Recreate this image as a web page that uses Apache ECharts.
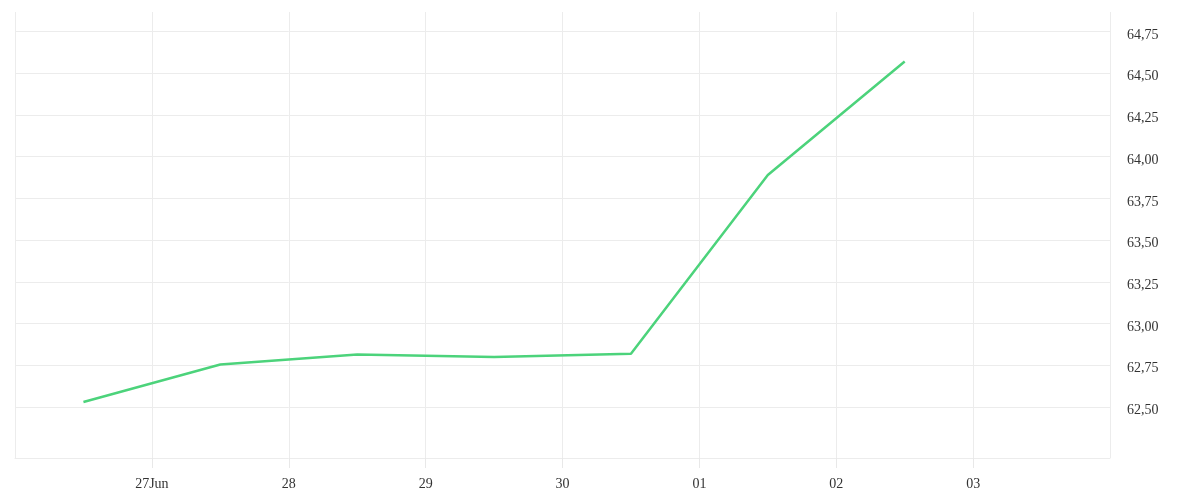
<!DOCTYPE html>
<html>
<head>
<meta charset="utf-8">
<style>html,body{margin:0;padding:0;background:#fff;}#chart{width:1200px;height:500px;}</style>
<script src="https://cdn.jsdelivr.net/npm/echarts@6/dist/echarts.min.js"></script>
</head>
<body>
<div id="chart"></div>
<script>
// Data
var dates = ['2024-06-26', '2024-06-27', '2024-06-28', '2024-06-29', '2024-06-30', '2024-07-01', '2024-07-02'];
var values = [62.53, 62.755, 62.815, 62.80, 62.82, 63.89, 64.57];
var yTicks = [62.50, 62.75, 63.00, 63.25, 63.50, 63.75, 64.00, 64.25, 64.50, 64.75];
var monthNames = ['Jan','Feb','Mar','Apr','May','Jun','Jul','Aug','Sep','Oct','Nov','Dec'];
var xStart = '2024-06-26';
var xEnd = '2024-07-04';
var yMin = 62.195, yMax = 64.866;

var DAY = 86400000;
var xMin = Date.parse(xStart + 'T00:00:00Z');
var xMax = Date.parse(xEnd + 'T00:00:00Z');
var seriesData = dates.map(function (d, i) {
  return [Date.parse(d + 'T12:00:00Z'), values[i]];
});

var gridColor = '#ececec';
var fontFam = '"Liberation Serif", serif';

var chart = echarts.init(document.getElementById('chart'), null, {renderer: 'canvas'});
chart.setOption({
  animation: false,
  backgroundColor: '#ffffff',
  grid: {left: 15, right: 90, top: 12, bottom: 42, containLabel: false},
  xAxis: {
    type: 'value',
    min: xMin,
    max: xMax,
    interval: DAY,
    axisLine: {show: true, onZero: false, lineStyle: {color: gridColor, width: 1}},
    axisTick: {show: true, inside: false, length: 10, lineStyle: {color: '#e8e8e8', width: 1}},
    splitLine: {show: true, lineStyle: {color: gridColor, width: 1}},
    axisLabel: {
      showMinLabel: false,
      showMaxLabel: false,
      margin: 19,
      color: '#333',
      fontFamily: fontFam,
      fontSize: 14,
      formatter: function (v) {
        var d = new Date(v);
        var day = ('0' + d.getUTCDate()).slice(-2);
        if (v === xMin + DAY) return day + monthNames[d.getUTCMonth()];
        return day;
      }
    }
  },
  yAxis: {
    type: 'value',
    position: 'right',
    min: yMin,
    max: yMax,
    axisLine: {show: false},
    axisTick: {show: false, customValues: yTicks},
    splitLine: {show: true, lineStyle: {color: gridColor, width: 1}},
    axisLabel: {
      customValues: yTicks,
      margin: 17,
      verticalAlign: 'top',
      lineHeight: 7,
      color: '#333',
      fontFamily: fontFam,
      fontSize: 14,
      formatter: function (v) { return v.toFixed(2).replace('.', ','); }
    }
  },
  series: [{
    type: 'line',
    data: seriesData,
    showSymbol: false,
    symbol: 'none',
    lineStyle: {color: '#4cd37b', width: 2.5},
    itemStyle: {color: '#4cd37b'}
  }]
});
</script>
</body>
</html>
